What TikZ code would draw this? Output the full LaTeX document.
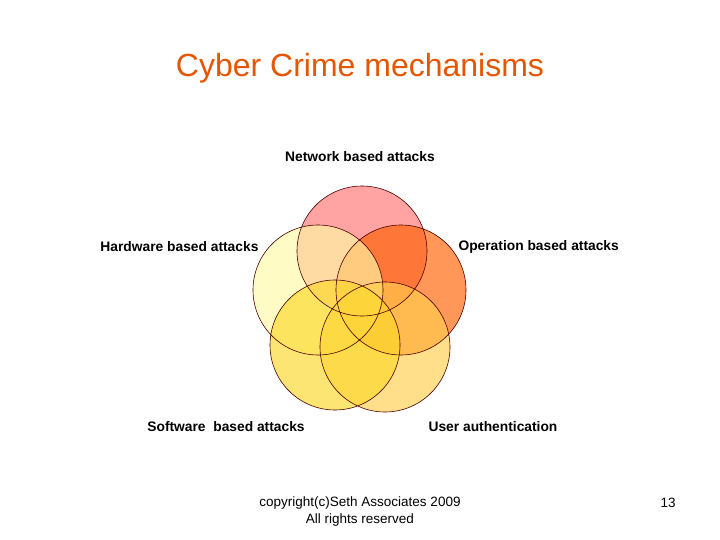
\documentclass[tikz,border=0pt]{standalone}
\usepackage{fontspec}
\setmainfont{Liberation Sans}
\begin{document}
\begin{tikzpicture}[x=1pt,y=-1pt,
  ring/.style={fill opacity=0.65},
  lab/.style={font=\bfseries\fontsize{13.8}{16}\selectfont},
  foot/.style={font=\fontsize{13.5}{17}\selectfont,align=center}]
\useasboundingbox (0,0) rectangle (720,540);
\fill[white] (0,0) rectangle (720,540);
\node[font=\fontsize{32}{36}\selectfont,text=orange!75!red!90!black] (title) at (360,68) {Cyber Crime mechanisms};
\path[ring,fill=red!55] (362,251) circle (65);
\path[ring,fill=orange!75!red] (401,290) circle (65);
\path[ring,fill=yellow!35] (318,290) circle (65);
\path[ring,fill=orange!55!yellow!70] (385,347) circle (65);
\path[ring,fill=yellow!70!orange!85] (335,345) circle (65);
\draw[draw=black!70!red,line width=0.6pt] (362,251) circle (65) (401,290) circle (65) (318,290) circle (65) (385,347) circle (65) (335,345) circle (65);
\node[lab] (n) at (360,157) {Network based attacks};
\node[lab,anchor=east] (h) at (262,247) {Hardware based attacks};
\node[lab,anchor=west] (o) at (455,247) {Operation based attacks};
\node[lab] (s) at (226,427) {Software\ \ based attacks};
\node[lab] (u) at (493,427) {User authentication};
\node[foot] (c) at (360,512) {copyright(c)Seth Associates 2009\\All rights reserved};
\node[foot] (p) at (668,503) {13};
\end{tikzpicture}
\end{document}
